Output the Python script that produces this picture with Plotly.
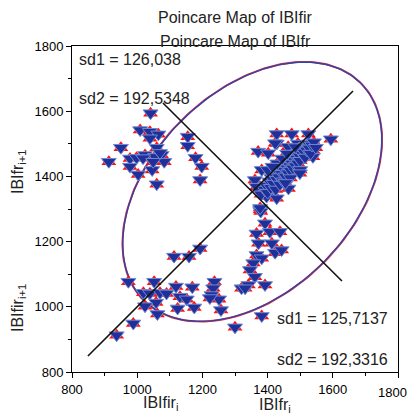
import numpy as np
import plotly.graph_objects as go

# IBI values (IBIfr_i, IBIfr_{i+1}); the IBIfir series overlaps nearly exactly
ibi_x = [1041, 1009, 1039, 1065, 1039, 950, 1060, 1155, 1155, 913, 978, 998, 1024, 1055, 1075,
         1083, 978, 1046, 1003, 1179, 1198, 1193, 1060, 1018, 1049, 1070,
         1193, 1113, 1159, 973, 1052, 1119, 1169, 1019, 1039, 1070, 1090, 1131, 1152, 1058,
         1024, 1124, 1175, 1062, 988, 937, 1237, 1233, 1228, 1251, 1257, 1300, 1320, 1223,
         1428, 1474, 1525, 1594, 1371, 1402, 1428, 1463, 1493, 1539, 1539, 1382, 1361, 1366,
         1397, 1428, 1464, 1377,
         1379, 1392, 1366, 1407, 1438, 1372, 1413, 1423, 1443, 1366, 1382, 1356, 1346, 1361,
         1341, 1331, 1392, 1382, 1377,
         1380, 1390, 1395, 1400, 1405, 1410, 1412, 1418, 1420, 1425, 1428, 1432, 1435, 1438,
         1440, 1444, 1447, 1450, 1452, 1455, 1458, 1460, 1463, 1466, 1468, 1470, 1473, 1475,
         1478, 1480, 1483, 1486, 1488, 1490, 1493, 1496, 1498, 1500, 1503, 1506, 1510, 1512,
         1515, 1518, 1520, 1525, 1528, 1532, 1536, 1542, 1548, 1430, 1445, 1460, 1485, 1400,
         1415, 1470, 1455, 1500, 1423, 1499]
ibi_y = [1594, 1542, 1537, 1529, 1517, 1488, 1488, 1522, 1494, 1445, 1455, 1457, 1466, 1460, 1466,
         1445, 1430, 1420, 1406, 1457, 1430, 1389, 1376, 1456, 1445, 1472,
         1179, 1154, 1154, 1077, 1077, 1062, 1060, 1043, 1041, 1043, 1041, 1031, 1023, 1013,
         1002, 995, 998, 978, 949, 913, 1077, 1057, 1036, 1023, 990, 937, 1057, 1027,
         1530, 1530, 1530, 1514, 1476, 1471, 1501, 1491, 1501, 1481, 1460, 1420, 1389, 1368,
         1338, 1333, 1363, 1297,
         1292, 1256, 1225, 1230, 1230, 1195, 1195, 1166, 1174, 1159, 1149, 1134, 1113, 1092,
         1067, 1057, 1067, 972, 1303,
         1345, 1360, 1372, 1350, 1385, 1365, 1395, 1378, 1405, 1360, 1390, 1415, 1398, 1375,
         1425, 1408, 1385, 1432, 1418, 1400, 1440, 1425, 1410, 1448, 1432, 1418, 1455, 1440,
         1425, 1462, 1447, 1432, 1470, 1455, 1440, 1476, 1462, 1448, 1482, 1468, 1490, 1474,
         1458, 1494, 1480, 1500, 1486, 1470, 1495, 1505, 1488, 1440, 1455, 1470, 1490, 1420,
         1430, 1395, 1380, 1420, 1502, 1410]

# Poincare descriptors
sd1_fir, sd2_fir = 126.038, 192.5348
sd1_fr, sd2_fr = 125.7137, 192.3316
center = [1353, 1353]
ellipse_scale = 2.4477

# reference lines (identity line and perpendicular)
line1_x = [849, 1662]
line1_y = [849, 1662]
line2_x = [1079, 1628]
line2_y = [1625, 1079]

tick_vals = [800, 1000, 1200, 1400, 1600, 1800]
x_tick_text = ["800", "1000", "1200", "1400", "1600", ""]   # last label drawn shifted inward
y_tick_text = ["800", "1000", "1200", "1400", "1600", "1800"]

FONT = "Arial, Liberation Sans, sans-serif"


def ellipse(sd1, sd2):
    t = np.linspace(0, 2 * np.pi, 240)
    a = ellipse_scale * sd2
    b = ellipse_scale * sd1
    u = a * np.cos(t)
    v = b * np.sin(t)
    c = np.cos(np.pi / 4)
    return center[0] + c * (u - v), center[1] + c * (u + v)


fig = go.Figure()

ex, ey = ellipse(sd1_fir, sd2_fir)
fig.add_trace(go.Scatter(x=ex, y=ey, mode="lines", line=dict(color="#E83040", width=2.0),
                         hoverinfo="skip", showlegend=False))
ex2, ey2 = ellipse(sd1_fr, sd2_fr)
fig.add_trace(go.Scatter(x=ex2, y=ey2, mode="lines", line=dict(color="#2E44A8", width=1.4),
                         hoverinfo="skip", showlegend=False))

fig.add_trace(go.Scatter(x=ibi_x, y=ibi_y, mode="markers", showlegend=False,
                         marker=dict(symbol="triangle-up", size=13, color="#FF1010",
                                     line=dict(width=0))))
fig.add_trace(go.Scatter(x=ibi_x, y=ibi_y, mode="markers", showlegend=False,
                         marker=dict(symbol="triangle-down", size=13, color="#20309A",
                                     line=dict(width=1, color="#7088CF"))))

fig.add_trace(go.Scatter(x=line1_x, y=line1_y, mode="lines", line=dict(color="#111111", width=1.6),
                         showlegend=False))
fig.add_trace(go.Scatter(x=line2_x, y=line2_y, mode="lines", line=dict(color="#111111", width=1.6),
                         showlegend=False))

axis_common = dict(range=[800, 1800], tickvals=tick_vals, ticks="outside", ticklen=5, tickwidth=1,
                   tickcolor="black", showline=True, linecolor="black", linewidth=1, mirror=True,
                   showgrid=False, zeroline=False, automargin=False,
                   tickfont=dict(family=FONT, size=13, color="black"),
                   minor=dict(dtick=100, ticks="outside", ticklen=3, tickcolor="black"))

fig.update_layout(
    width=410, height=414,
    margin=dict(l=72, r=12, t=46, b=42),
    plot_bgcolor="white", paper_bgcolor="white",
    xaxis=dict(axis_common, ticktext=x_tick_text),
    yaxis=dict(axis_common, ticktext=y_tick_text),
    font=dict(family=FONT, color="black"),
)


def px_x(px):
    return (px - 72) / 326


def px_y(py):
    return (372 - py) / 326


annos = [
    ("Poincare Map of IBIfir", 235, 17, "center", 16, 0),
    ("Poincare Map of IBIfr", 235, 41, "center", 16, 0),
    ("sd1 = 126,038", 77, 59, "left", 16, 0),
    ("sd2 = 192,5348", 77, 99, "left", 16, 0),
    ("sd1 = 125,7137", 390, 318, "right", 16, 0),
    ("sd2 = 192,3316", 390, 359, "right", 16, 0),
    ("IBIfir<sub>i</sub>", 160, 403, "center", 16, 0),
    ("IBIfr<sub>i</sub>", 275, 405, "center", 16, 0),
    ("IBIfr<sub>i+1</sub>", 18, 172, "center", 16, -90),
    ("IBIfir<sub>i+1</sub>", 18, 308, "center", 16, -90),
]
for text, x, y, anchor, size, ang in annos:
    fig.add_annotation(text=text, xref="paper", yref="paper", x=px_x(x), y=px_y(y),
                       xanchor=anchor, yanchor="middle", showarrow=False, textangle=ang,
                       font=dict(family=FONT, size=size, color="#222222"))

# last x tick label, pulled inside the figure edge as in the reference
fig.add_annotation(text=str(tick_vals[-1]), xref="paper", yref="paper", x=px_x(409), y=px_y(392),
                   xanchor="right", yanchor="middle", showarrow=False,
                   font=dict(family=FONT, size=13, color="black"))

fig.write_html("out.html", config={"displayModeBar": False},
               post_script="document.body.style.margin='0';document.body.style.padding='0';"
                           "document.body.style.overflow='hidden';")
